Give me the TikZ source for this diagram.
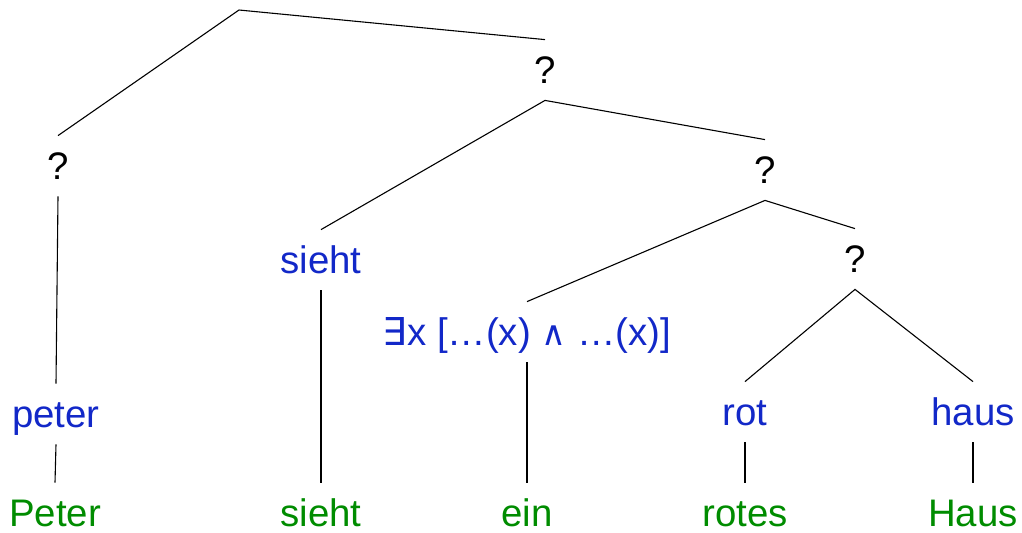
\documentclass[tikz,border=0pt]{standalone}
\usepackage{fontspec}
\setmainfont{Liberation Sans}
\newfontfamily\symfnt{DejaVu Sans}
\definecolor{semblue}{RGB}{18,40,200}
\definecolor{wordgreen}{RGB}{0,140,0}
\begin{document}
\begin{tikzpicture}[x=0.5pt,y=-0.5pt,
  every node/.style={font=\fontsize{19.2}{22}\selectfont, inner xsep=2pt, inner ysep=6.3pt, text height=15.6pt, text depth=1.8pt},
  qnode/.style={text=black},
  sem/.style={text=semblue},
  word/.style={text=wordgreen},
  edge/.style={draw=black, line width=0.55pt}]
\useasboundingbox (0,0) rectangle (1022,532);
\coordinate (root) at (239,10);
\node[qnode] (q1) at (545,70) {?};
\node[qnode] (q2) at (58,166) {?};
\node[sem]   (sieht) at (321,260) {sieht};
\node[qnode] (q3) at (765,170) {?};
\node[sem]   (ex) at (527,332) {{\symfnt ∃}x […(x) {\symfnt\fontsize{17}{20}\selectfont ∧} …(x)]};
\node[qnode] (q4) at (855,259) {?};
\node[sem]   (peter) at (56,414) {peter};
\node[sem]   (rot) at (745,412) {rot};
\node[sem]   (haus) at (973,412) {haus};
\node[word]  (Peter) at (55,513) {Peter};
\node[word]  (wsieht) at (321,513) {sieht};
\node[word]  (ein) at (527,513) {ein};
\node[word]  (rotes) at (745,513) {rotes};
\node[word]  (Haus) at (973,513) {Haus};
\draw[edge] (q2.north) -- (root) -- (q1.north);
\draw[edge] (sieht.north) -- (q1.south) -- (q3.north);
\draw[edge] (ex.north) -- (q3.south) -- (q4.north);
\draw[edge] (rot.north) -- (q4.south) -- (haus.north);
\draw[edge] (q2.south) -- (peter.north);
\draw[edge] (peter.south) -- (Peter.north);
\draw[edge] (sieht.south) -- (wsieht.north);
\draw[edge] (ex.south) -- (ein.north);
\draw[edge] (rot.south) -- (rotes.north);
\draw[edge] (haus.south) -- (Haus.north);
\end{tikzpicture}
\end{document}
